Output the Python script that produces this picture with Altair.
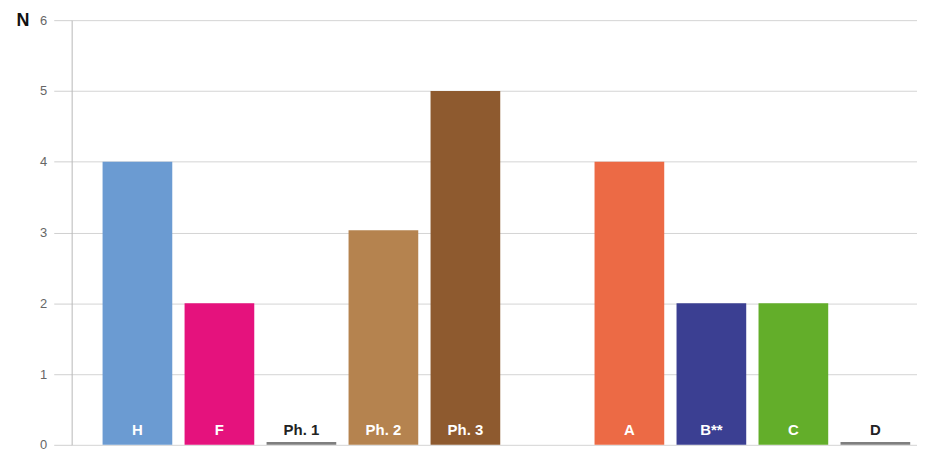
import altair as alt
import pandas as pd

categories = ["H", "F", "Ph. 1", "Ph. 2", "Ph. 3", "A", "B**", "C", "D"]
values = [4, 2, 0.04, 3.03, 5, 4, 2, 2, 0.04]
slot_order = ["H", "F", "Ph. 1", "Ph. 2", "Ph. 3", "gap", "A", "B**", "C", "D"]
bar_colors = ["#6b9bd2", "#e5127d", "#7f7f7f", "#b5834f", "#8e5a2f",
              "#ec6a45", "#3b3f92", "#63ae2a", "#7f7f7f"]
dark_labels = ["Ph. 1", "D"]
y_ticks = [0, 1, 2, 3, 4, 5, 6]

df = pd.DataFrame({"cat": categories, "n": values})

xscale = alt.Scale(domain=slot_order, paddingInner=0.15, paddingOuter=0.23, align=0.82)
xenc = alt.X("cat:N", scale=xscale, axis=None, sort=slot_order)

bars = alt.Chart(df).mark_bar().encode(
    x=xenc,
    y=alt.Y("n:Q", scale=alt.Scale(domain=[0, 6], nice=False),
            axis=alt.Axis(values=y_ticks, format="d", grid=True, gridColor="#d4d4d4",
                          domainColor="#b8b8b8", tickColor="#d0d0d0", tickSize=18,
                          labelPadding=7, labelColor="#666666", labelFontSize=13,
                          labelFont="Liberation Sans",
                          title="N", titleAngle=0, titleX=-56, titleY=0,
                          titleBaseline="middle", titleAlign="left",
                          titleFontSize=18, titleFontWeight="bold",
                          titleColor="#111111", titleFont="Liberation Sans")),
    color=alt.Color("cat:N", scale=alt.Scale(domain=categories, range=bar_colors),
                    legend=None),
)

labels = alt.Chart(df).mark_text(
    dy=-15, fontSize=15, fontWeight="bold", font="Liberation Sans", baseline="middle"
).encode(
    x=xenc,
    y=alt.datum(0),
    text="cat:N",
    color=alt.condition(alt.FieldOneOfPredicate(field="cat", oneOf=dark_labels),
                        alt.value("#222222"), alt.value("#ffffff")),
)

chart = alt.layer(bars, labels).properties(
    width=850, height=427, autosize="none",
    padding={"left": 64, "top": 11, "right": 0, "bottom": 6},
).configure_view(stroke=None)

chart.save("out.html", embed_options={"renderer": "svg", "actions": False})
